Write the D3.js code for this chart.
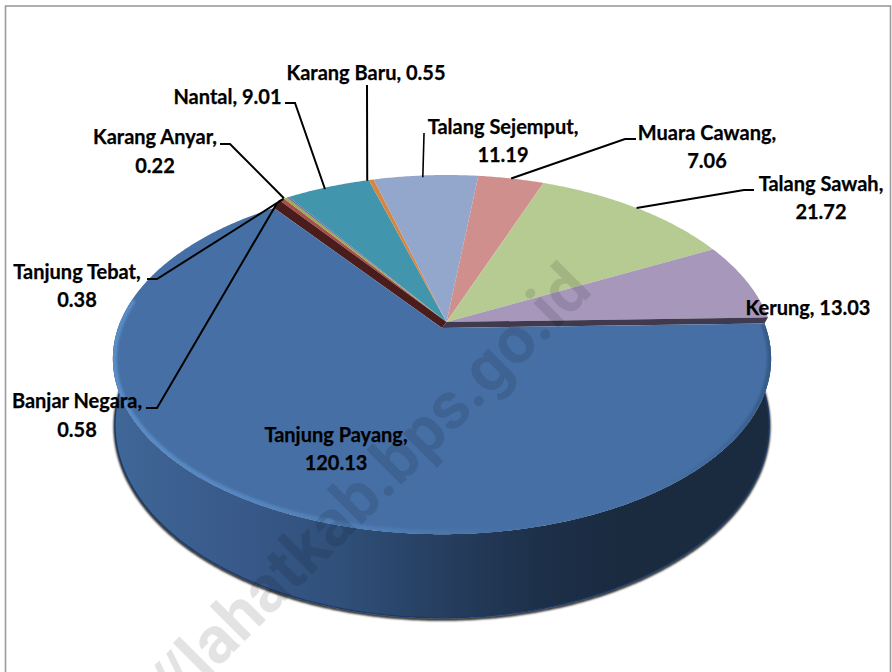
<!DOCTYPE html>
<html>
<head>
<meta charset="utf-8">
<style>
html,body{margin:0;padding:0;background:#fff;overflow:hidden}
svg{display:block}
text{font-family:Lato,"Open Sans",sans-serif;font-weight:700;font-size:20px;fill:#000;stroke:#000;stroke-width:0.25px}
</style>
<script src="https://cdn.jsdelivr.net/npm/d3@7/dist/d3.min.js"></script>
</head>
<body>
<script>
// ---- data, clockwise from the big slice
const categories = ["Tanjung Payang","Banjar Negara","Tanjung Tebat","Karang Anyar","Nantal","Karang Baru","Talang Sejemput","Muara Cawang","Talang Sawah","Kerung"];
const values = [120.13,0.58,0.38,0.22,9.01,0.55,11.19,7.06,21.72,13.03];
const colors = ["#4670a5","#a94f4b","#93af52","#7c62a0","#4195ad","#d98540","#93a6cc","#cf8f8d","#b6cb91","#a797bb"];

// ---- label layout: [centre x, first baseline, second baseline or null]
const labelPos = [[336,442,470],[77,408,437],[77,279,307],[155,144,173],[227.5,104,null],[366,80,null],[503,134,162],[707,140,168],[821,191,219],[808,315,null]];
// ---- leader elbows: label end, elbow, tweak of the rim anchor
const leaders = [null,
  {from:[146,408],elbow:[157,408],nudge:[-5,5]},
  {from:[147,279],elbow:[157,279],nudge:[-2,1]},
  {from:[220,144],elbow:[230,144],nudge:[-4,1]},
  {from:[285,103],elbow:[295,103],nudge:[-3,2]},
  {from:[367,85],elbow:[367,86],nudge:[-4,1]},
  {from:[424,133],elbow:[424,134],nudge:[-3,2]},
  {from:[636,139],elbow:[625,139],nudge:[0,0]},
  {from:[754,190],elbow:[744,190],nudge:[0,0]},
  null];

const W=892,H=672, rad=d3.scaleLinear().domain([0,360]).range([0,2*Math.PI]);
const K=0.1755;
const rest={x:446.5,y:322,A:323,B:172.8};
const blue={x:442,y:328,A:324,B:170};
const base={x:442,y:391,A:322,B:187};
// a = d3 pie angle (north = 0, clockwise)
function proj(g,a){const t=a-Math.PI/2,u=Math.cos(t),v=Math.sin(t),d=1-K*v;return [g.x+g.A*u/d,g.y+g.B*v/d];}
function arc(g,a0,a1){const n=Math.max(2,Math.ceil(Math.abs(a1-a0)/rad(0.5)));return d3.range(n+1).map(i=>proj(g,a0+(a1-a0)*i/n));}
const line=d3.line();

const pieGen=d3.pie().sort(null).startAngle(rad(88.5)).endAngle(rad(448.5));
const arcs=pieGen(values);
const big=arcs[0];

const svg=d3.select("body").append("svg").attr("width",W).attr("height",H);
const defs=svg.append("defs");
const grad=(id,stops)=>{const g=defs.append("linearGradient").attr("id",id).attr("gradientUnits","userSpaceOnUse").attr("x1",112).attr("x2",770).attr("y1",0).attr("y2",0);
  stops.forEach(s=>g.append("stop").attr("offset",(s[0]-112)/658).attr("stop-color",s[1]));};
grad("wallG",[[112,"#3f6797"],[240,"#38598a"],[340,"#30507a"],[441,"#263e60"],[540,"#1d3049"],[620,"#1a2b40"],[770,"#1a2b40"]]);
grad("rimG",[[112,"#5a8cc6"],[260,"#5585bd"],[400,"#4c7ab0"],[500,"#4670a5"],[660,"#4670a5"],[730,"#40669a"],[770,"#365a88"]]);
defs.append("filter").attr("id","b1").attr("x","-10%").attr("y","-10%").attr("width","120%").attr("height","120%").append("feGaussianBlur").attr("stdDeviation",1);
defs.append("filter").attr("id","b2").attr("x","-10%").attr("y","-10%").attr("width","120%").attr("height","120%").append("feGaussianBlur").attr("stdDeviation",1.3);

svg.append("rect").attr("x",5.5).attr("y",6).attr("width",885).attr("height",700).attr("fill","#fff").attr("stroke","#9c9c9c").attr("stroke-width",1.6);

// ---- soft shadow under the drum
const frontStart=rad(90-2), frontEnd=rad(90+182);
svg.append("path").attr("d",line(arc(base,frontStart,frontEnd).map(p=>[p[0],p[1]+1.5]))).attr("fill","none").attr("stroke","#000").attr("stroke-width",2.5).attr("filter","url(#b2)");

// ---- drum wall
const topFront=arc(blue,frontStart,frontEnd), botFront=arc(base,frontEnd,frontStart);
svg.append("path").attr("d",line(topFront.concat(botFront))+"Z").attr("fill","url(#wallG)");
svg.append("path").attr("d",line(arc(base,frontStart,frontEnd))).attr("fill","none").attr("stroke","#183a6b").attr("stroke-width",1.3);

// ---- other slices, flat on the back plane
svg.selectAll("path.slice").data(arcs.slice(1)).enter().append("path").attr("class","slice")
  .attr("d",d=>line([[rest.x,rest.y]].concat(arc(rest,d.startAngle,d.endAngle)))+"Z")
  .attr("fill",d=>colors[d.index]);

// ---- inner walls exposed where the big slice is pulled out
function band(a,col){svg.append("path").attr("d",line([[rest.x,rest.y],proj(rest,a),proj(blue,a),[blue.x,blue.y]])+"Z").attr("fill",col);}
band(big.endAngle,"#4a1c1c");
band(big.startAngle,"#3f3a4d");

// ---- big slice
const bigD=line([[blue.x,blue.y]].concat(arc(blue,big.startAngle,big.endAngle)))+"Z";
defs.append("clipPath").attr("id","bigClip").append("path").attr("d",bigD);
svg.append("path").attr("d",bigD).attr("fill",colors[0]);
svg.append("g").attr("clip-path","url(#bigClip)").append("path")
  .attr("d",line(arc(blue,big.startAngle,rad(90+190)))).attr("fill","none")
  .attr("stroke","url(#rimG)").attr("stroke-width",8).attr("filter","url(#b1)");

// ---- leaders
leaders.forEach((l,i)=>{ if(!l) return;
  const d=arcs[i], p=proj(rest,(d.startAngle+d.endAngle)/2);
  svg.append("path").attr("d",line([l.from,l.elbow,[p[0]+l.nudge[0],p[1]+l.nudge[1]]]))
    .attr("fill","none").attr("stroke","#000").attr("stroke-width",i===6?1.6:2).attr("stroke-linejoin","miter");
});

// ---- labels
const fmt=d3.format(".2f");
categories.forEach((c,i)=>{
  const [x,y1,y2]=labelPos[i];
  if(y2===null){
    svg.append("text").attr("x",x).attr("y",y1).attr("text-anchor","middle").text(c+", "+fmt(values[i]));
  } else {
    svg.append("text").attr("x",x).attr("y",y1).attr("text-anchor","middle").text(c+",");
    svg.append("text").attr("x",x).attr("y",y2).attr("text-anchor","middle").text(fmt(values[i]));
  }
});

// ---- watermark
svg.append("text").attr("transform","translate(594,292) rotate(-45)").attr("text-anchor","end")
  .style("font-family","Roboto,sans-serif").style("font-weight",700).style("font-size","66px")
  .style("stroke","none").style("fill","#000").style("fill-opacity",0.11).text("https://lahatkab.bps.go.id");
</script>
</body>
</html>
